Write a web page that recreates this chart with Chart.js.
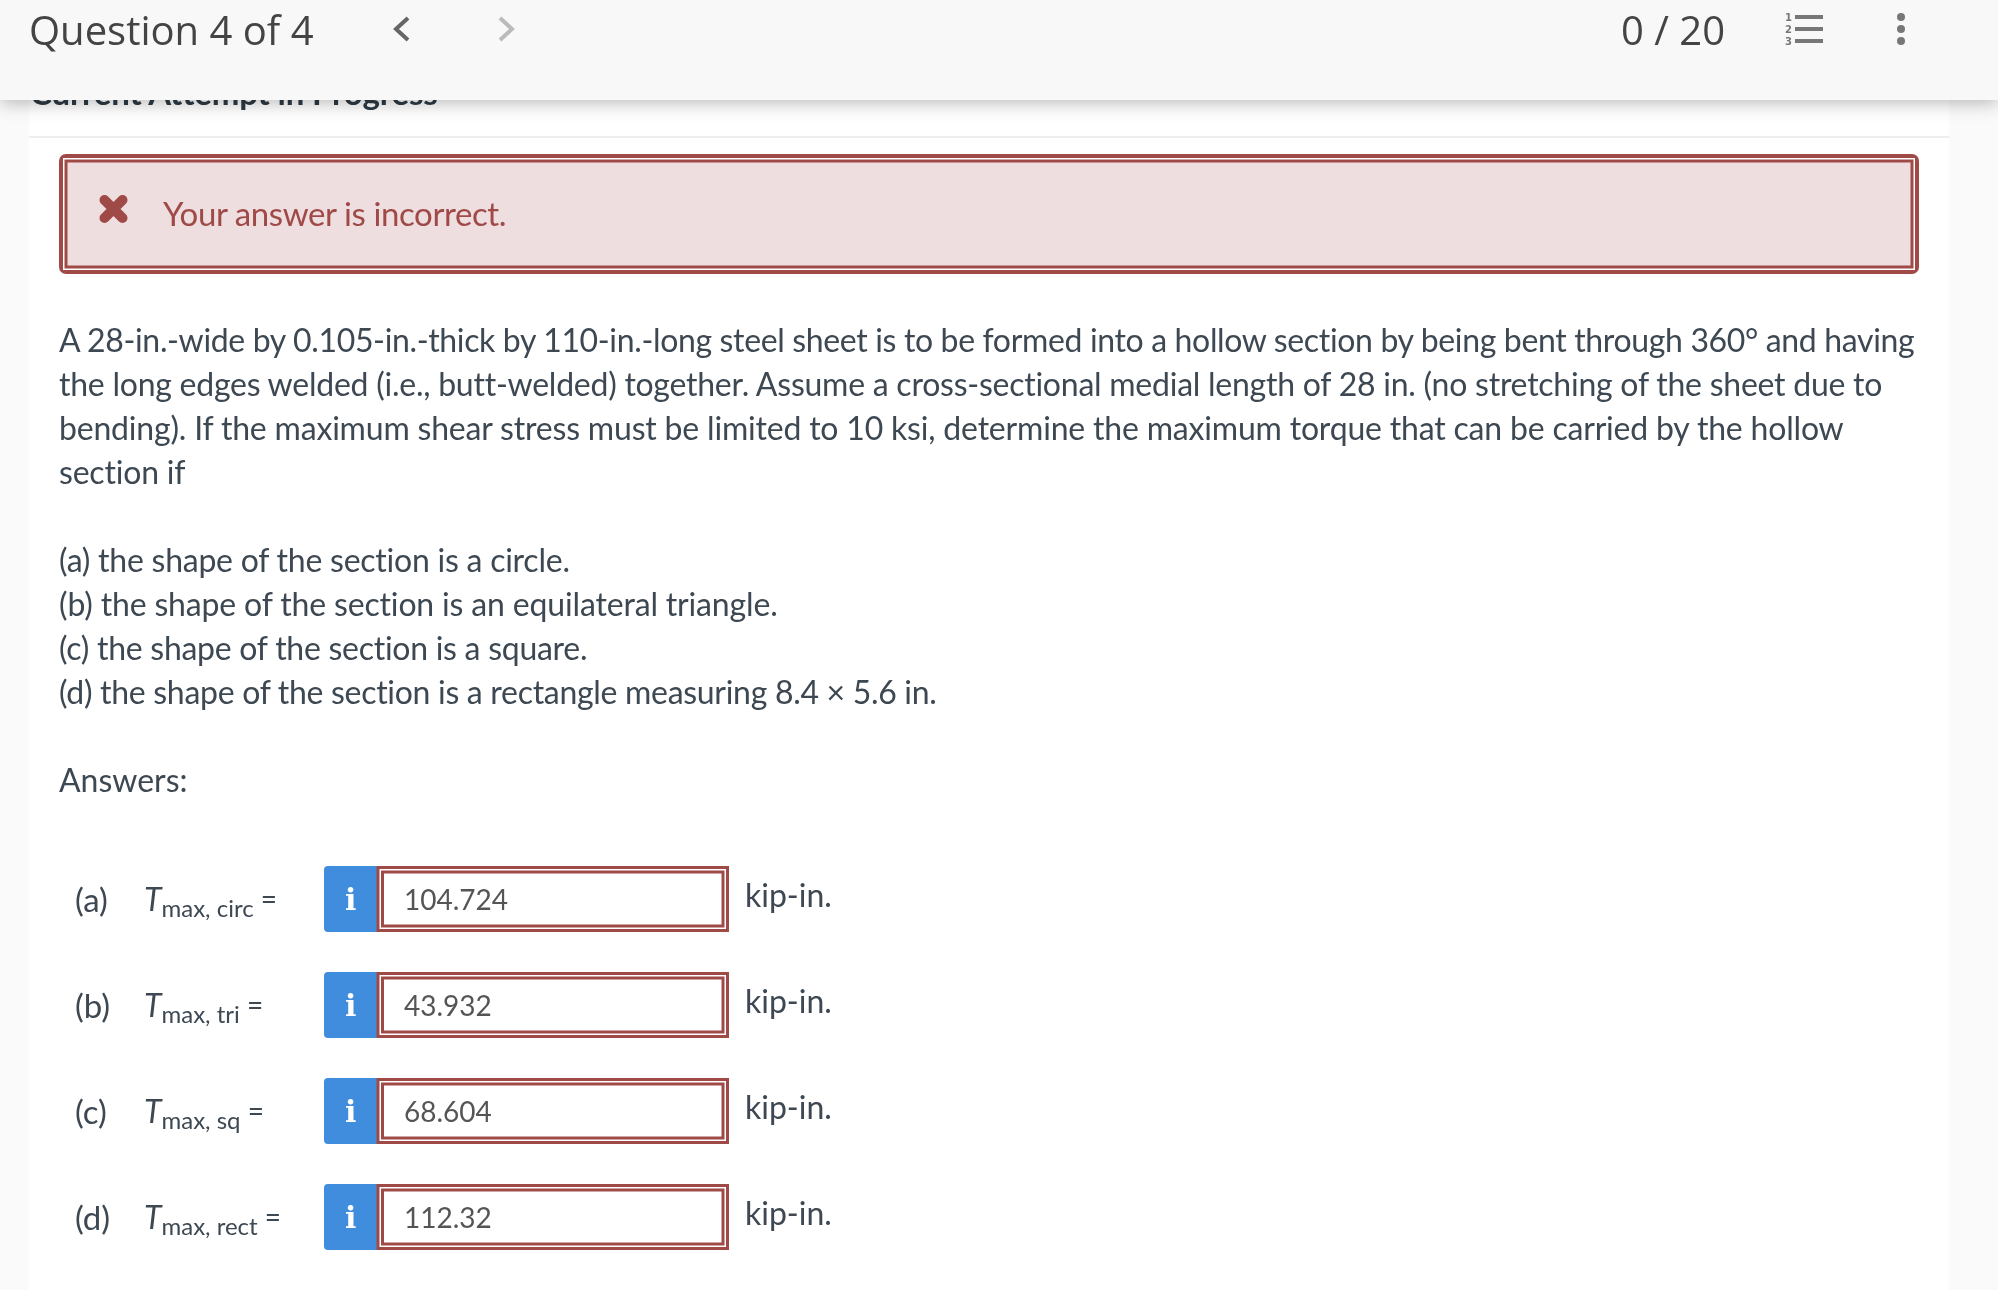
<!DOCTYPE html>
<html>
<head>
<meta charset="utf-8">
<script src="https://cdn.jsdelivr.net/npm/chart.js@4/dist/chart.umd.min.js"></script>
<style>
html, body { margin: 0; padding: 0; background: #fafafa; }
#page { position: relative; width: 1998px; height: 1290px; overflow: hidden; font-family: Lato, sans-serif; color: #3d4852; }
#out { position: absolute; left: 0; top: 0; }
.t { position: absolute; white-space: nowrap; transform: translateY(-50%); line-height: 1; }
#header { position: absolute; left: 0; top: 0; width: 1998px; height: 100px; background: #f8f8f8; box-shadow: 0 2px 18px rgba(0,0,0,0.3); font-family: "Open Sans", sans-serif; font-weight: 400; color: #444; }
#header svg { position: absolute; left: 0; top: 0; }
sub { font-size: 24px; font-style: normal; vertical-align: baseline; position: relative; top: 6px; }
.eq { position: relative; top: -2px; }
</style>
</head>
<body>
<div id="page">
  <canvas id="out" width="1998" height="1290"></canvas>
  <div class="t" style="left:30px;top:92px;font-size:33px;font-weight:700;letter-spacing:-0.15px;color:#2d3b45">Current Attempt in Progress</div>
  <div id="header">
    <div class="t" style="left:29px;top:30px;font-size:40px">Question 4 of 4</div>
    <div class="t" style="left:1621px;top:30px;font-size:40px">0 / 20</div>
    <svg width="1998" height="100">
      <path d="M408 18 L396 29 L408 40" fill="none" stroke="#666" stroke-width="4"/>
      <path d="M500 18 L512 29 L500 40" fill="none" stroke="#bbb" stroke-width="4"/>
      <g fill="#777">
        <rect x="1795" y="15" width="28" height="4"/><rect x="1795" y="27" width="28" height="4"/><rect x="1795" y="39" width="28" height="4"/>
        <g font-family="DejaVu Sans" font-weight="700" font-size="10">
          <text x="1785" y="21">1</text><text x="1785" y="33">2</text><text x="1785" y="45">3</text>
        </g>
        <circle cx="1901" cy="17" r="4"/><circle cx="1901" cy="29" r="4"/><circle cx="1901" cy="41" r="4"/>
      </g>
    </svg>
  </div>
  <div id="text"></div>
</div>
<script>
const feedback = "Your answer is incorrect.";
const problemLines = [
  "A 28-in.-wide by 0.105-in.-thick by 110-in.-long steel sheet is to be formed into a hollow section by being bent through 360° and having",
  "the long edges welded (i.e., butt-welded) together. Assume a cross-sectional medial length of 28 in. (no stretching of the sheet due to",
  "bending). If the maximum shear stress must be limited to 10 ksi, determine the maximum torque that can be carried by the hollow",
  "section if"
];
const partLines = [
  "(a) the shape of the section is a circle.",
  "(b) the shape of the section is an equilateral triangle.",
  "(c) the shape of the section is a square.",
  "(d) the shape of the section is a rectangle measuring 8.4 × 5.6 in."
];
const answersTitle = "Answers:";
const rowLabels = ["(a)", "(b)", "(c)", "(d)"];
const rowSubs = ["max, circ", "max, tri", "max, sq", "max, rect"];
const answerValues = [104.724, 43.932, 68.604, 112.32];
const answerTexts = ["104.724", "43.932", "68.604", "112.32"];
const unit = "kip-in.";

const RED = "#a04a48";
// Lato here kerns a little differently from the screenshot, so each line gets its own fit
const problemSpacing = [-0.35, -0.245, -0.19, -0.2];
const partSpacing = [-0.24, -0.16, -0.27, -0.3];

function addText(html, x, y, size, color, spacing) {
  const el = document.createElement("div");
  el.className = "t";
  el.innerHTML = html;
  el.style.left = x + "px";
  el.style.top = y + "px";
  el.style.fontSize = size + "px";
  if (color) el.style.color = color;
  if (spacing) el.style.letterSpacing = spacing + "px";
  document.getElementById("text").appendChild(el);
  return el;
}

function roundRect(ctx, x, y, w, h, r) {
  ctx.beginPath();
  ctx.roundRect(x, y, w, h, r);
}

// page furniture and the answer rows, the rows sit on the chart's own y scale
const pagePlugin = {
  id: "page",
  beforeDraw(chart) {
    const ctx = chart.ctx;
    ctx.save();
    ctx.fillStyle = "#fafafa";
    ctx.fillRect(0, 0, 1998, 1290);
    ctx.fillStyle = "#fff";
    ctx.fillRect(29, 0, 1920, 1290);
    ctx.fillStyle = "#eeeeee";
    ctx.fillRect(29, 136, 1920, 2);

    // feedback box
    ctx.fillStyle = RED;
    roundRect(ctx, 59, 154, 1860, 120, 7);
    ctx.fill();
    ctx.fillStyle = "#fff";
    ctx.fillRect(63, 158, 1852, 112);
    ctx.fillStyle = RED;
    ctx.fillRect(64.5, 159.5, 1849, 109);
    ctx.fillStyle = "#eededf";
    ctx.fillRect(67.5, 162.5, 1843, 103);

    // cross
    ctx.strokeStyle = RED;
    ctx.lineWidth = 10;
    ctx.lineCap = "round";
    ctx.beginPath();
    ctx.moveTo(104.5, 200); ctx.lineTo(122.5, 218);
    ctx.moveTo(122.5, 200); ctx.lineTo(104.5, 218);
    ctx.stroke();

    // input boxes
    const y = chart.scales.y;
    rowLabels.forEach((label, i) => {
      const c = y.getPixelForValue(i);
      ctx.fillStyle = "#3f8ddc";
      roundRect(ctx, 324, c - 33, 56, 66, [4, 0, 0, 4]);
      ctx.fill();
      ctx.fillStyle = RED;
      ctx.fillRect(376.5, c - 33, 352.5, 66);
      ctx.fillStyle = "#fff";
      ctx.fillRect(379.5, c - 30, 346.5, 60);
      ctx.fillStyle = RED;
      ctx.fillRect(381, c - 28.5, 343.5, 57);
      ctx.fillStyle = "#fff";
      ctx.fillRect(384, c - 25.5, 337.5, 51);
    });
    ctx.restore();
  }
};

const chart = new Chart(document.getElementById("out").getContext("2d"), {
  type: "bar",
  data: {
    labels: rowLabels,
    datasets: [{ label: "T max", data: answerValues, hidden: true }]
  },
  options: {
    indexAxis: "y",
    responsive: false,
    animation: false,
    layout: { padding: { left: 0, right: 0, top: 846, bottom: 20 } },
    plugins: { legend: { display: false }, tooltip: { enabled: false } },
    scales: { x: { display: false }, y: { display: false } }
  },
  plugins: [pagePlugin]
});

addText(feedback, 163, 213, 33, RED, -0.4);
problemLines.forEach((s, i) => addText(s, 59, 340 + i * 44, 32, null, problemSpacing[i]));
partLines.forEach((s, i) => addText(s, 59, 560 + i * 44, 32, null, partSpacing[i]));
addText(answersTitle, 59, 780, 32);

rowLabels.forEach((label, i) => {
  const c = chart.scales.y.getPixelForValue(i);
  addText(label, 75, c, 33);
  addText("<i style='font-size:32px'>T</i><sub>" + rowSubs[i] + "</sub> <span class='eq'>=</span>", 144, c, 28);
  const icon = addText("i", 345, c + 1, 30, "#fff");
  icon.style.fontFamily = "'DejaVu Serif'";
  icon.style.fontWeight = "700";
  addText(answerTexts[i], 404, c, 28, "#555");
  addText(unit, 745, c - 4, 32);
});
</script>
</body>
</html>
